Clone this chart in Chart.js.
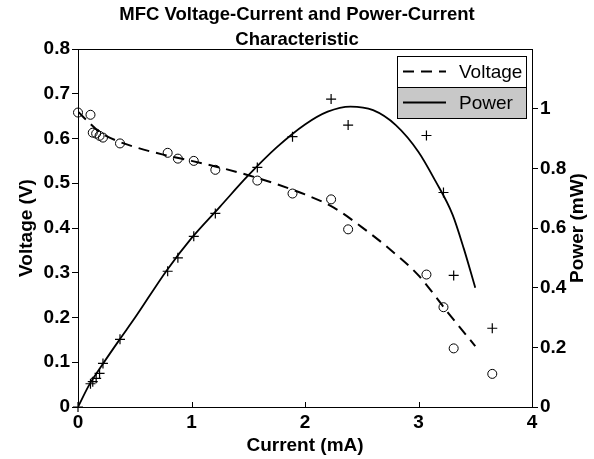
<!DOCTYPE html>
<html>
<head>
<meta charset="utf-8">
<title>MFC Voltage-Current and Power-Current Characteristic</title>
<script src="https://cdn.jsdelivr.net/npm/chart.js@4.4.1/dist/chart.umd.min.js"></script>
<style>
    body { margin: 0; background: #fff; }
    #chart { display: block; }
</style>
</head>
<body>
<canvas id="chart" width="594" height="459"></canvas>
<script>
// Measured points (circles = voltage, crosses = power)
const current = [0, 0.11, 0.13, 0.16, 0.19, 0.22, 0.37, 0.79, 0.88, 1.02, 1.21, 1.58, 1.89, 2.23, 2.38, 3.07, 3.22, 3.31, 3.65];
const voltage = [0.658, 0.653, 0.613, 0.611, 0.606, 0.602, 0.589, 0.568, 0.555, 0.55, 0.53, 0.506, 0.477, 0.464, 0.397, 0.296, 0.223, 0.131, 0.074];
const power = [0, 0.078, 0.085, 0.096, 0.113, 0.146, 0.227, 0.455, 0.5, 0.572, 0.649, 0.803, 0.906, 1.032, 0.945, 0.91, 0.719, 0.441, 0.264];

// Fitted curves
const voltageFitCurrent = [0, 0.1, 0.2, 0.35, 0.5, 0.75, 1.0, 1.25, 1.5, 1.75, 2.0, 2.25, 2.5, 2.75, 3.0, 3.25, 3.5];
const voltageFit = [0.66, 0.635, 0.613, 0.594, 0.581, 0.564, 0.55, 0.535, 0.518, 0.498, 0.475, 0.446, 0.402, 0.352, 0.294, 0.214, 0.136];
const powerFitCurrent = [0, 0.1, 0.22, 0.37, 0.5, 0.78, 1.0, 1.25, 1.5, 1.75, 2.0, 2.2, 2.4, 2.6, 2.8, 3.0, 3.15, 3.3, 3.4, 3.5];
const powerFit = [0, 0.075, 0.145, 0.228, 0.298, 0.457, 0.566, 0.671, 0.776, 0.87, 0.947, 0.99, 1.007, 0.995, 0.945, 0.855, 0.757, 0.645, 0.53, 0.4];

// Tick labels
const xTicks = [0, 1, 2, 3, 4];
const voltageTicks = [0, 0.1, 0.2, 0.3, 0.4, 0.5, 0.6, 0.7, 0.8];
const powerTicks = [0, 0.2, 0.4, 0.6, 0.8, 1];

const FONT = "'Liberation Sans', Arial, sans-serif";
Chart.defaults.font.family = FONT;
Chart.defaults.color = "#000";

function toPoints(xs, ys) {
    return xs.map((x, i) => ({ x: x, y: ys[i] }));
}

// Frame on top + inward ticks on the x axis + right axis title
const framePlugin = {
    id: "frame",
    afterDraw(chart) {
        const ctx = chart.ctx;
        const area = chart.chartArea;
        const xScale = chart.scales.x;
        ctx.save();
        ctx.strokeStyle = "#000";
        ctx.lineWidth = 1;
        ctx.beginPath();
        ctx.moveTo(area.left, area.top + 0.5);
        ctx.lineTo(area.right, area.top + 0.5);
        xTicks.forEach((t) => {
            const px = Math.round(xScale.getPixelForValue(t)) + 0.5;
            ctx.moveTo(px, area.bottom);
            ctx.lineTo(px, area.bottom - 5);
        });
        ctx.stroke();

        // Power axis title reads bottom to top like the left one
        ctx.translate(578, (area.top + area.bottom) / 2);
        ctx.rotate(-Math.PI / 2);
        ctx.font = "bold 19px " + FONT;
        ctx.textAlign = "center";
        ctx.textBaseline = "middle";
        ctx.fillStyle = "#000";
        ctx.fillText("Power (mW)", 0, 0);
        ctx.restore();
    },
};

// Legend box: white row for Voltage, grey row for Power
const legendPlugin = {
    id: "boxLegend",
    afterDraw(chart) {
        const ctx = chart.ctx;
        const area = chart.chartArea;
        const right = area.right - 6;
        const left = right - 129;
        const top = area.top + 7;
        const rowH = 31;
        const labels = chart.data.datasets.filter((d) => d.inLegend);
        ctx.save();
        labels.forEach((ds, i) => {
            const y = top + i * rowH;
            ctx.fillStyle = i === 0 ? "#ffffff" : "#c8c8c8";
            ctx.fillRect(left, y, right - left, rowH);
            ctx.strokeStyle = "#000";
            ctx.lineWidth = 1;
            ctx.strokeRect(left + 0.5, y + 0.5, right - left, rowH);
            const cy = y + rowH / 2;
            ctx.beginPath();
            ctx.setLineDash(ds.borderDash || []);
            ctx.lineWidth = 2;
            ctx.moveTo(left + 6, cy);
            ctx.lineTo(left + 49, cy);
            ctx.stroke();
            ctx.setLineDash([]);
            ctx.font = "19px " + FONT;
            ctx.textBaseline = "middle";
            ctx.fillStyle = "#000";
            ctx.fillText(ds.label, left + 62, cy + 1);
        });
        ctx.restore();
    },
};

const ctx = document.getElementById("chart").getContext("2d");

new Chart(ctx, {
    type: "scatter",
    data: {
        datasets: [
            {
                label: "Voltage data",
                data: toPoints(current, voltage),
                yAxisID: "y",
                pointStyle: "circle",
                pointRadius: 4.5,
                borderColor: "#000",
                backgroundColor: "rgba(0,0,0,0)",
                borderWidth: 1,
                clip: false,
            },
            {
                label: "Power data",
                data: toPoints(current, power),
                yAxisID: "y1",
                pointStyle: "cross",
                pointRadius: 5,
                borderColor: "#000",
                borderWidth: 1.2,
                clip: false,
            },
            {
                label: "Voltage",
                inLegend: true,
                data: toPoints(voltageFitCurrent, voltageFit),
                yAxisID: "y",
                showLine: true,
                pointRadius: 0,
                borderColor: "#000",
                borderWidth: 2,
                borderDash: [11, 7],
                cubicInterpolationMode: "monotone",
            },
            {
                label: "Power",
                inLegend: true,
                data: toPoints(powerFitCurrent, powerFit),
                yAxisID: "y1",
                showLine: true,
                pointRadius: 0,
                borderColor: "#000",
                borderWidth: 1.8,
                cubicInterpolationMode: "monotone",
            },
        ],
    },
    options: {
        responsive: false,
        animation: false,
        layout: { padding: 0 },
        plugins: {
            legend: { display: false },
            tooltip: { enabled: false },
            title: {
                display: true,
                text: ["MFC Voltage-Current and Power-Current", "Characteristic"],
                color: "#000",
                font: { size: 18.5, weight: "bold", lineHeight: 25 / 18.5 },
                padding: { top: 2, bottom: -3 },
            },
        },
        scales: {
            x: {
                type: "linear",
                min: 0,
                max: 4,
                afterFit(scale) { scale.height = 52; },
                afterBuildTicks(scale) { scale.ticks = xTicks.map((v) => ({ value: v })); },
                ticks: { font: { size: 19, weight: "bold" }, padding: 4 },
                grid: { drawOnChartArea: false, drawTicks: false },
                border: { color: "#000", width: 1 },
                title: {
                    display: true,
                    text: "Current (mA)",
                    font: { size: 19, weight: "bold" },
                    padding: { top: 0, bottom: 2 },
                },
            },
            y: {
                type: "linear",
                position: "left",
                min: 0,
                max: 0.8,
                afterFit(scale) { scale.width = 78; },
                afterBuildTicks(scale) { scale.ticks = voltageTicks.map((v) => ({ value: v })); },
                ticks: {
                    font: { size: 19, weight: "bold" },
                    padding: 2,
                    callback: (v) => String(Number(v.toFixed(1))),
                },
                grid: { drawOnChartArea: false, tickLength: 6, color: "#000" },
                border: { color: "#000", width: 1 },
                title: {
                    display: true,
                    text: "Voltage (V)",
                    font: { size: 19, weight: "bold" },
                    padding: { top: 15, bottom: 0 },
                },
            },
            y1: {
                type: "linear",
                position: "right",
                min: 0,
                max: 1.2,
                afterFit(scale) { scale.width = 62; },
                afterBuildTicks(scale) { scale.ticks = powerTicks.map((v) => ({ value: v })); },
                ticks: {
                    font: { size: 19, weight: "bold" },
                    padding: 2,
                    callback: (v) => String(Number(v.toFixed(1))),
                },
                grid: { drawOnChartArea: false, tickLength: 6, color: "#000" },
                border: { color: "#000", width: 1 },
            },
        },
    },
    plugins: [framePlugin, legendPlugin],
});
</script>
</body>
</html>
